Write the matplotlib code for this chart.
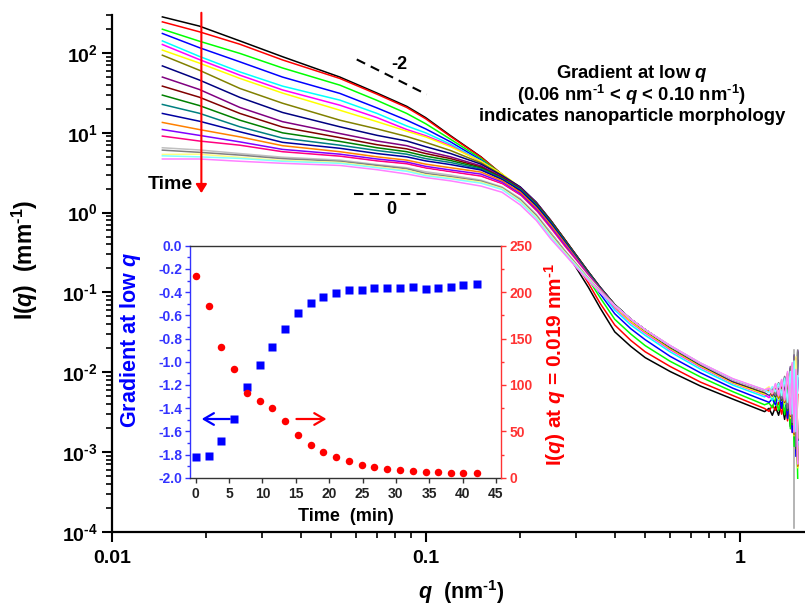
import numpy as np
import matplotlib
matplotlib.use('Agg')
import matplotlib.pyplot as plt
from matplotlib.ticker import FixedLocator, FuncFormatter, MultipleLocator, LogLocator, NullFormatter

plt.rcParams.update({
    'font.family': ['Liberation Sans', 'DejaVu Sans'],
    'font.weight': 'bold',
    'axes.labelweight': 'bold',
    'axes.unicode_minus': False,
    'mathtext.fontset': 'custom',
    'mathtext.rm': 'Liberation Sans:bold',
    'mathtext.it': 'Liberation Sans:italic:bold',
    'mathtext.bf': 'Liberation Sans:bold',
})

# ---------------- data: SAXS curves I(q) ----------------
q_grid = [0.0145, 0.019, 0.0256, 0.035, 0.0533, 0.07, 0.087, 0.1, 0.12, 0.15, 0.175, 0.2,
          0.225, 0.25, 0.275, 0.3, 0.33, 0.36, 0.4, 0.45, 0.5, 0.6, 0.75, 0.95, 1.2]

I_black = [284, 218, 142, 90, 50, 31.5, 21.5, 15.5, 9.2, 5.0, 3.0, 1.8, 1.05, 0.60, 0.36, 0.21, 0.115, 0.063, 0.032, 0.021, 0.0152, 0.0102, 0.0067, 0.0046, 0.0032]
I_red = [246, 185, 129, 82, 48, 30.5, 20.8, 15.0, 9.0, 4.95, 3.02, 1.88, 1.12, 0.66, 0.40, 0.235, 0.13, 0.072, 0.039, 0.025, 0.018, 0.0118, 0.0075, 0.0051, 0.0035]
I_green = [199, 141, 99, 65, 39.6, 25.5, 17.5, 13.0, 8.3, 4.75, 3.0, 1.95, 1.18, 0.70, 0.42, 0.25, 0.145, 0.085, 0.046, 0.030, 0.0215, 0.0137, 0.0087, 0.0057, 0.0039]
I_blue = [176, 117, 77.6, 50, 31.2, 20.5, 14.4, 11.2, 7.7, 4.55, 2.98, 2.0, 1.25, 0.74, 0.45, 0.27, 0.158, 0.095, 0.054, 0.035, 0.0255, 0.0158, 0.0098, 0.0063, 0.0044]
I_cyan = [142, 91, 58, 38.5, 25.7, 17.5, 12.2, 10.0, 7.2, 4.42, 2.98, 2.05, 1.3, 0.77, 0.47, 0.285, 0.168, 0.103, 0.060, 0.039, 0.029, 0.018, 0.0109, 0.0069, 0.0049]
I_magenta = [128, 83, 52.8, 34.5, 22.2, 15.5, 11.0, 9.2, 6.9, 4.35, 3.0, 2.05, 1.3, 0.78, 0.47, 0.29, 0.175, 0.108, 0.064, 0.042, 0.031, 0.0192, 0.0116, 0.0073, 0.0052]
I_yellow = [109, 75, 48.1, 31.5, 19.2, 13.8, 10.5, 8.9, 6.7, 4.4, 3.05, 2.08, 1.32, 0.79, 0.48, 0.295, 0.178, 0.11, 0.066, 0.043, 0.032, 0.0198, 0.0119, 0.0074, 0.0053]
I_olive = [94, 61, 36, 23.5, 14.4, 11.2, 9.0, 7.6, 6.0, 4.2, 2.95, 2.08, 1.33, 0.80, 0.48, 0.30, 0.18, 0.112, 0.068, 0.045, 0.033, 0.0203, 0.0122, 0.0076, 0.0055]
I_navy = [69, 46, 27.8, 18.0, 11.9, 9.3, 7.9, 6.7, 5.5, 4.05, 2.9, 2.1, 1.35, 0.80, 0.48, 0.30, 0.18, 0.115, 0.070, 0.046, 0.034, 0.021, 0.0125, 0.0077, 0.0056]
I_purple = [50, 35, 20.8, 13.8, 9.8, 7.9, 6.9, 5.9, 5.0, 3.85, 2.8, 2.05, 1.33, 0.80, 0.48, 0.30, 0.18, 0.115, 0.070, 0.046, 0.034, 0.021, 0.0126, 0.0078, 0.0056]
I_wine = [38.5, 28, 17.5, 11.8, 8.7, 7.1, 6.3, 5.5, 4.75, 3.72, 2.75, 2.0, 1.3, 0.79, 0.48, 0.30, 0.18, 0.115, 0.070, 0.046, 0.034, 0.021, 0.0125, 0.0077, 0.0056]
I_dkgreen = [29.7, 22, 14.4, 10.0, 7.8, 6.5, 5.8, 5.1, 4.5, 3.62, 2.7, 1.98, 1.28, 0.78, 0.47, 0.295, 0.178, 0.114, 0.070, 0.046, 0.034, 0.021, 0.0125, 0.0078, 0.0056]
I_teal = [22.7, 17.6, 11.9, 8.6, 7.0, 6.0, 5.4, 4.75, 4.25, 3.52, 2.65, 1.95, 1.25, 0.76, 0.46, 0.29, 0.175, 0.113, 0.070, 0.046, 0.034, 0.021, 0.0126, 0.0078, 0.0057]
I_royal = [17.5, 14, 10.3, 7.6, 6.4, 5.5, 5.0, 4.45, 4.0, 3.42, 2.6, 1.9, 1.22, 0.74, 0.45, 0.285, 0.172, 0.112, 0.069, 0.046, 0.034, 0.021, 0.0126, 0.0078, 0.0057]
I_orange = [13.5, 11, 8.9, 6.9, 5.8, 5.0, 4.55, 4.05, 3.65, 3.22, 2.5, 1.8, 1.15, 0.70, 0.43, 0.275, 0.167, 0.11, 0.069, 0.046, 0.034, 0.0212, 0.0127, 0.0079, 0.0057]
I_violet = [11, 9.3, 7.7, 6.2, 5.4, 4.7, 4.3, 3.8, 3.42, 3.04, 2.4, 1.72, 1.1, 0.66, 0.41, 0.265, 0.163, 0.108, 0.068, 0.046, 0.034, 0.0212, 0.0127, 0.0079, 0.0058]
I_pink = [9.1, 7.9, 7.0, 5.8, 5.1, 4.45, 4.1, 3.62, 3.25, 2.87, 2.3, 1.65, 1.05, 0.63, 0.39, 0.255, 0.158, 0.106, 0.068, 0.046, 0.034, 0.0213, 0.0128, 0.008, 0.0058]
I_white = [7.6, 6.8, 6.2, 5.3, 4.8, 4.2, 3.85, 3.45, 3.1, 2.7, 2.2, 1.58, 1.0, 0.60, 0.37, 0.245, 0.155, 0.105, 0.068, 0.046, 0.034, 0.0213, 0.0128, 0.008, 0.0058]
I_ltgray = [6.5, 6.1, 5.5, 4.95, 4.55, 4.0, 3.65, 3.25, 2.95, 2.55, 2.1, 1.5, 0.95, 0.56, 0.35, 0.235, 0.15, 0.103, 0.068, 0.046, 0.034, 0.0214, 0.0129, 0.0081, 0.0059]
I_gray = [6.07, 5.7, 5.26, 4.75, 4.4, 3.9, 3.55, 3.1, 2.82, 2.48, 2.05, 1.45, 0.92, 0.54, 0.34, 0.23, 0.148, 0.102, 0.068, 0.046, 0.034, 0.0214, 0.0129, 0.0081, 0.0059]
I_ltyellow = [5.36, 5.4, 4.92, 4.5, 4.25, 3.75, 3.4, 2.98, 2.73, 2.41, 2.0, 1.4, 0.88, 0.52, 0.33, 0.225, 0.146, 0.101, 0.068, 0.046, 0.034, 0.0215, 0.013, 0.0082, 0.006]
I_ltcyan = [5.15, 5.0, 4.78, 4.4, 4.15, 3.65, 3.3, 2.9, 2.65, 2.34, 1.95, 1.35, 0.85, 0.50, 0.32, 0.22, 0.144, 0.10, 0.068, 0.046, 0.034, 0.0215, 0.013, 0.0082, 0.006]
I_ltmagenta = [4.7, 4.7, 4.4, 4.15, 3.9, 3.45, 3.05, 2.75, 2.5, 2.15, 1.8, 1.25, 0.8, 0.47, 0.31, 0.21, 0.14, 0.10, 0.068, 0.046, 0.034, 0.0216, 0.013, 0.0083, 0.006]

curves = [I_black, I_red, I_green, I_blue, I_cyan, I_magenta, I_yellow, I_olive, I_navy,
          I_purple, I_wine, I_dkgreen, I_teal, I_royal, I_orange, I_violet, I_pink, I_white,
          I_ltgray, I_gray, I_ltyellow, I_ltcyan, I_ltmagenta]
curve_colors = ['#000000', '#FF0000', '#00FF00', '#0000FF', '#00FFFF', '#FF00FF', '#FFFF00',
                '#808000', '#000080', '#800080', '#800000', '#008000', '#008080', '#0000A0',
                '#FF8000', '#8000FF', '#FF0080', '#FFFFFF', '#C0C0C0', '#808080', '#FFFF80',
                '#80FFFF', '#FF80FF']

# noisy high-q tail (relative factors read as typical scatter, 4 patterns)
tail_q = [1.24, 1.27, 1.30, 1.33, 1.36, 1.39, 1.42, 1.45, 1.47, 1.49, 1.51, 1.53]
tail_patterns = [
    [1.10, 0.90, 1.15, 0.90, 1.30, 0.80, 1.50, 0.65, 1.90, 0.45, 2.60, 0.25],
    [0.92, 1.10, 0.95, 1.20, 0.85, 1.40, 0.70, 1.70, 0.50, 2.30, 0.30, 1.50],
    [1.05, 0.92, 1.20, 0.85, 1.35, 0.75, 1.70, 0.50, 2.20, 0.30, 1.80, 0.12],
    [0.95, 1.05, 0.88, 1.25, 0.80, 1.50, 0.60, 2.00, 0.40, 2.80, 0.20, 3.20],
]
gray_spike_q = [1.49, 1.49]
gray_spike_I = [0.019, 0.00011]

# ---------------- data: inset ----------------
time_min = [0, 1.99, 3.79, 5.74, 7.64, 9.59, 11.48, 13.43, 15.33, 17.23, 19.12, 21.07,
            22.97, 24.87, 26.76, 28.66, 30.61, 32.56, 34.46, 36.35, 38.25, 40.1, 42.1]
gradient_low_q = [-1.82, -1.81, -1.68, -1.49, -1.22, -1.03, -0.87, -0.72, -0.58, -0.49, -0.44,
                  -0.41, -0.38, -0.38, -0.365, -0.365, -0.365, -0.355, -0.375, -0.365, -0.355,
                  -0.34, -0.33]
I_q019 = [217.7, 185, 141, 117, 91, 83, 75, 61, 46, 35, 28, 22, 17.6, 14, 11, 9.3, 7.9, 6.8,
          6.1, 5.7, 5.4, 5.0, 5.0]

# guide lines
slope2_q = [0.0603, 0.1007]
slope2_I = [83.2, 30.3]
slope0_q = [0.0589, 0.1007]
slope0_I = [1.73, 1.73]

SUP = r'$^{\text{-1}}$'

# ---------------- figure ----------------
fig = plt.figure(figsize=(8.05, 6.08), dpi=100)
ax = fig.add_axes([111.7 / 805, (608 - 531.7) / 608, (805 - 111.7) / 805, (531.7 - 15) / 608])
ax.set_xscale('log')
ax.set_yscale('log')

for i, (vals, c) in enumerate(zip(curves, curve_colors)):
    pat = tail_patterns[i % 4]
    qq = list(q_grid) + tail_q
    vv = list(vals) + [vals[-1] * f for f in pat]
    ax.plot(qq, vv, color=c, lw=1.1, solid_joinstyle='round', zorder=2 + i * 0.01)
ax.plot(gray_spike_q, gray_spike_I, color='#A0A0A0', lw=1.1, zorder=2)

ax.set_xlim(0.01, 1.614)
ax.set_ylim(1e-4, 300)

for s in ['top', 'right']:
    ax.spines[s].set_visible(False)
for s in ['left', 'bottom']:
    ax.spines[s].set_linewidth(1.6)

ax.xaxis.set_major_locator(FixedLocator([0.01, 0.1, 1]))
ax.xaxis.set_major_formatter(FuncFormatter(lambda v, p: {0.01: '0.01', 0.1: '0.1', 1: '1'}.get(round(v, 3), '')))
ax.xaxis.set_minor_locator(LogLocator(base=10, subs=np.arange(2, 10)))
ax.xaxis.set_minor_formatter(NullFormatter())
ax.yaxis.set_major_locator(LogLocator(base=10, numticks=20))
ax.yaxis.set_major_formatter(FuncFormatter(
    lambda v, p: r'$\mathrm{10^{\text{%d}}}$' % int(round(np.log10(v)))))
ax.yaxis.set_minor_locator(LogLocator(base=10, subs=np.arange(2, 10), numticks=20))
ax.yaxis.set_minor_formatter(NullFormatter())
ax.tick_params(which='major', direction='out', length=7.5, width=1.5, labelsize=14)
ax.tick_params(which='minor', direction='out', length=4, width=1.2)
ax.tick_params(axis='y', which='major', pad=2.5)
ax.tick_params(axis='x', which='major', pad=6)

ax.set_xlabel(r'$q$  (nm' + SUP + ')', fontsize=15.5)
ax.xaxis.set_label_coords(0.505, -0.09)
ax.set_ylabel(r'I($q$)  (mm' + SUP + ')', fontsize=16.5)
ax.yaxis.set_label_coords(-0.103, 0.526)

# guide lines and annotations
ax.plot(slope2_q, slope2_I, color='black', lw=1.5, ls=(0, (4.5, 3)))
ax.plot(slope0_q, slope0_I, color='black', lw=1.5, ls=(0, (4.5, 3)))
ax.text(0.0822, 72.6, '-2', fontsize=13, ha='center', va='center')
ax.text(0.0776, 1.106, '0', fontsize=13, ha='center', va='center')

ax.annotate('', xy=(0.0193, 1.755), xytext=(0.0193, 320), annotation_clip=False,
            arrowprops=dict(arrowstyle='-|>,head_length=0.4,head_width=0.25', color='#FF0000',
                            lw=1.5, mutation_scale=13, shrinkA=0, shrinkB=0))
ax.text(0.01533, 2.275, 'Time', fontsize=14, ha='center', va='center')

ax.text(0.7505, 0.8872, r'Gradient at low $q$', transform=ax.transAxes, fontsize=13.3, ha='center', va='center')
ax.text(0.7505, 0.8452, '(0.06 nm' + SUP + r' < $q$ < 0.10 nm' + SUP + ')', transform=ax.transAxes,
        fontsize=13.3, ha='center', va='center')
ax.text(0.7505, 0.8045, 'indicates nanoparticle morphology', transform=ax.transAxes, fontsize=13.3,
        ha='center', va='center')

# ---------------- inset ----------------
axin = fig.add_axes([190 / 805, (608 - 477.7) / 608, 311 / 805, 232 / 608])
axin.set_facecolor('white')
axin.plot(time_min, gradient_low_q, 's', color='#0000FF', ms=5.2, mec='none', zorder=3)
axin.set_xlim(-0.85, 45.75)
axin.set_ylim(-2.0, 0.0)
ax2 = axin.twinx()
ax2.plot(time_min, I_q019, 'o', color='#FF0000', ms=5.4, mec='none', zorder=3)
ax2.set_ylim(0, 250)

axin.spines['left'].set_color('#3333FF')
axin.spines['right'].set_visible(False)
axin.spines['top'].set_color('#333333')
axin.spines['bottom'].set_color('#333333')
for s in ['left', 'top', 'bottom']:
    ax2.spines[s].set_visible(False)
ax2.spines['right'].set_color('#FF3333')
for a in (axin, ax2):
    for s in a.spines.values():
        s.set_linewidth(1.0)

axin.xaxis.set_major_locator(MultipleLocator(5))
axin.yaxis.set_major_locator(MultipleLocator(0.2))
axin.yaxis.set_minor_locator(MultipleLocator(0.1))
axin.yaxis.set_major_formatter(FuncFormatter(lambda v, p: '%.1f' % (round(v, 1) + 0.0)))
ax2.yaxis.set_major_locator(MultipleLocator(50))
ax2.yaxis.set_minor_locator(MultipleLocator(25))

axin.tick_params(axis='x', which='major', direction='out', length=3.5, width=1, labelsize=10, pad=3,
                 colors='#333333', labelcolor='#222222')
axin.tick_params(axis='y', which='major', direction='out', length=3.5, width=1, labelsize=10, pad=2,
                 colors='#3333FF', labelcolor='#3333FF')
axin.tick_params(axis='y', which='minor', direction='out', length=2, width=1, colors='#3333FF')
ax2.tick_params(axis='y', which='major', direction='out', length=3.5, width=1, labelsize=10, pad=2.5,
                colors='#FF3333', labelcolor='#FF3333')
ax2.tick_params(axis='y', which='minor', direction='out', length=2, width=1, colors='#FF3333')

axin.set_xlabel('Time  (min)', fontsize=13)
axin.xaxis.set_label_coords(0.5, -0.132)
axin.set_ylabel(r'Gradient at low $q$', fontsize=15.5, color='#0000FF')
axin.yaxis.set_label_coords(-0.151, 0.593)
ax2.set_ylabel(r'I($q$) at $q$ = 0.019 nm' + SUP, fontsize=15, color='#FF0000')
ax2.yaxis.set_label_coords(1.132, 0.49)

axin.annotate('', xy=(0.9, -1.494), xytext=(5.1, -1.494),
              arrowprops=dict(arrowstyle='->,head_length=0.6,head_width=0.35', color='#0000FF',
                              lw=1.6, mutation_scale=12, shrinkA=0, shrinkB=0))
axin.annotate('', xy=(19.6, -1.494), xytext=(15.1, -1.494),
              arrowprops=dict(arrowstyle='->,head_length=0.6,head_width=0.35', color='#FF0000',
                              lw=1.6, mutation_scale=12, shrinkA=0, shrinkB=0))

fig.savefig('out.png', dpi=100)
